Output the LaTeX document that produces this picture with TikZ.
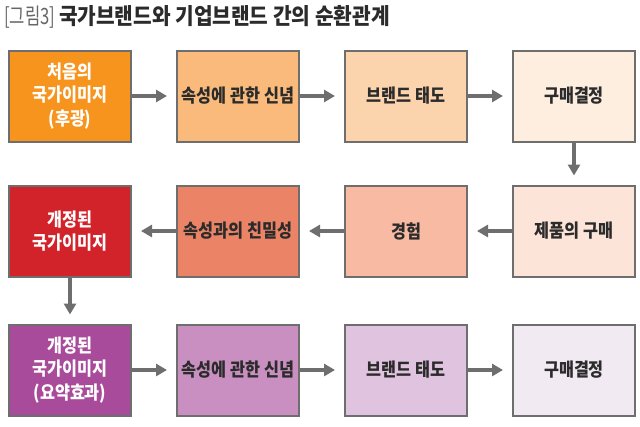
\documentclass[tikz,border=0pt]{standalone}
\usepackage{fontspec}
\setmainfont{Noto Sans CJK KR}[FakeStretch=0.88]
\newfontfamily\titlefont{Noto Sans CJK KR}[FakeStretch=0.9]
\newfontfamily\tagfont{Noto Sans CJK KR}[FakeStretch=0.74]
\usepackage{tikz}
\usetikzlibrary{positioning,arrows.meta}
\usepackage{xcolor}

\definecolor{boxgray}{HTML}{6E6E6E}
\definecolor{arrowgray}{HTML}{6E6E6E}
\definecolor{textdark}{HTML}{2B2B2B}
\definecolor{orangeA}{HTML}{F6941E}
\definecolor{orangeB}{HTML}{F9BA7B}
\definecolor{orangeC}{HTML}{FBD4AD}
\definecolor{orangeD}{HTML}{FDEEDF}
\definecolor{redA}{HTML}{D2232A}
\definecolor{redB}{HTML}{EB8366}
\definecolor{redC}{HTML}{F8BAA3}
\definecolor{redD}{HTML}{FCE4D8}
\definecolor{purpleA}{HTML}{A94B9B}
\definecolor{purpleB}{HTML}{C88FC0}
\definecolor{purpleC}{HTML}{E0C4DF}
\definecolor{purpleD}{HTML}{F2EAF3}

\begin{document}
\begin{tikzpicture}[
    x=1pt, y=-1pt,
    node distance=44pt and 44pt,
    stepbox/.style={rectangle, draw=boxgray, line width=2pt, minimum width=122pt, minimum height=91pt, inner sep=0pt, align=center, font=\bfseries\fontsize{18.5}{23.5}\selectfont, text=textdark},
    firstbox/.style={stepbox, text=white},
    arrow/.style={-{Triangle[length=11pt,width=12pt]}, line width=4pt, draw=arrowgray, shorten >=9pt}
]
\useasboundingbox (0,0) rectangle (640,426);

% title
\node[anchor=west, inner sep=0pt, font=\fontsize{22.5}{26}\selectfont] (title) at (4,17)
    {\tagfont\textcolor{black!60}{[그림3]} \titlefont\textcolor{textdark}{\bfseries 국가브랜드와 기업브랜드 간의 순환관계}};

% first row
\node[firstbox, fill=orangeA] (first) at (70,96) {처음의\\국가이미지\\(후광)};
\node[stepbox, fill=orangeB, right=of first] (belief) {속성에 관한 신념};
\node[stepbox, fill=orangeC, right=of belief] (attitude) {브랜드 태도};
\node[stepbox, fill=orangeD, right=of attitude] (decision) {구매결정};

% second row (right to left)
\node[stepbox, fill=redD, below=42pt of decision] (purchase) {제품의 구매};
\node[stepbox, fill=redC, left=of purchase] (exper) {경험};
\node[stepbox, fill=redB, left=of exper] (famil) {속성과의 친밀성};
\node[firstbox, fill=redA, left=of famil] (revised) {개정된\\국가이미지};

% third row
\node[firstbox, fill=purpleA, below=46pt of revised] (summary) {개정된\\국가이미지\\(요약효과)};
\node[stepbox, fill=purpleB, right=of summary] (belief2) {속성에 관한 신념};
\node[stepbox, fill=purpleC, right=of belief2] (attitude2) {브랜드 태도};
\node[stepbox, fill=purpleD, right=of attitude2] (decision2) {구매결정};

\draw[arrow] (first) -- (belief);
\draw[arrow] (belief) -- (attitude);
\draw[arrow] (attitude) -- (decision);
\draw[arrow] (decision) -- (purchase);
\draw[arrow] (purchase) -- (exper);
\draw[arrow] (exper) -- (famil);
\draw[arrow] (famil) -- (revised);
\draw[arrow] (revised) -- (summary);
\draw[arrow] (summary) -- (belief2);
\draw[arrow] (belief2) -- (attitude2);
\draw[arrow] (attitude2) -- (decision2);
\end{tikzpicture}
\end{document}
